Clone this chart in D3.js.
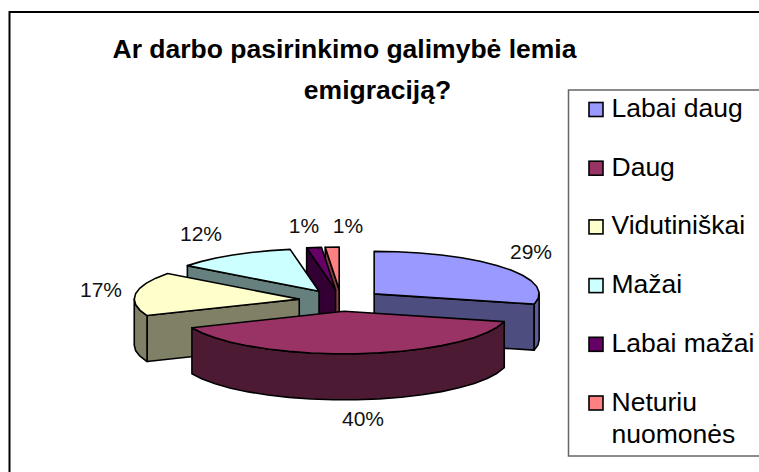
<!DOCTYPE html>
<html><head><meta charset="utf-8">
<script src="https://cdn.jsdelivr.net/npm/d3@7/dist/d3.min.js"></script>
<style>html,body{margin:0;padding:0;background:#fff;overflow:hidden}svg{display:block}text{font-family:"Liberation Sans",Arial,sans-serif}</style>
</head><body><div id="c"></div>
<script>
const categories = ["Labai daug","Daug","Vidutiniškai","Mažai","Labai mažai","Neturiu nuomonės"];
const values = [28.9,39.8,16.6,11.9,1.45,1.35];
const topColors = ["#9999FF","#993366","#FFFFCC","#CCFFFF","#660066","#FF8080"];
const wallColors = ["#4D4D80","#4D1A33","#808066","#668080","#330033","#804040"];
const rimColors = ["#5E5E9E","#4D1A33","#808066","#668080","#330033","#804040"];
const titleLines = ["Ar darbo pasirinkimo galimybė lemia","emigraciją?"];

const W=759,H=472, cx=341,cy=300.5, rx=165,ry=42.5, depth=46, explode=0.255;
const svg=d3.select("#c").append("svg").attr("width",W).attr("height",H);
svg.append("rect").attr("x",9.5).attr("y",12).attr("width",780).attr("height",500).attr("fill","#fff").attr("stroke","#000").attr("stroke-width",2);

const arcs=d3.pie().sort(null)(values);
const pct=d3.format(".0%"), total=d3.sum(values);
const xs=d3.scaleLinear().domain([-1,1]).range([-rx,rx]);
const ys=d3.scaleLinear().domain([-1,1]).range([ry,-ry]);
const line=d3.line();
const geo=arcs.map(a=>{const m=(a.startAngle+a.endAngle)/2;
  return {...a,i:a.index,ax:cx+explode*xs(Math.sin(m)),ay:cy+explode*ys(Math.cos(m))};});
function rim(g,a0,a1){const n=Math.max(1,Math.ceil((a1-a0)/(Math.PI/22)));
  return d3.range(n+1).map(k=>{const t=a0+(a1-a0)*k/n;return [g.ax+xs(Math.sin(t)),g.ay+ys(Math.cos(t))];});}
const down=p=>[p[0],p[1]+depth];
const draw=(pts,fill)=>svg.append("path").attr("d",line(pts)+"Z").attr("fill",fill).attr("stroke","#000").attr("stroke-width",1.6).attr("stroke-linejoin","round");

[5,4,3,2,0,1].forEach(i=>{const g=geo[i],apex=[g.ax,g.ay];
  const s=rim(g,g.startAngle,g.startAngle)[0], e=rim(g,g.endAngle,g.endAngle)[0];
  if(g.startAngle>Math.PI) draw([apex,s,down(s),down(apex)],wallColors[i]);
  if(g.endAngle<Math.PI) draw([apex,e,down(e),down(apex)],wallColors[i]);
  const f0=Math.max(g.startAngle,Math.PI/2), f1=Math.min(g.endAngle,3*Math.PI/2);
  if(f1>f0){const r=rim(g,f0,f1);draw(r.concat(r.map(down).reverse()),rimColors[i]);}
  draw([apex].concat(rim(g,g.startAngle,g.endAngle)),topColors[i]);
});

const labelPos=[[531,259],[363,426],[101,297],[201,241],[304,233],[348,233]];
svg.append("g").selectAll("text").data(geo).join("text")
  .attr("x",(d,i)=>labelPos[i][0]).attr("y",(d,i)=>labelPos[i][1])
  .attr("text-anchor","middle").attr("font-size",21).attr("fill","#111")
  .text(d=>pct(d.value/total));

svg.append("g").selectAll("text").data(titleLines).join("text")
  .attr("x",(d,i)=>[344.5,377.5][i]).attr("y",(d,i)=>[57.5,99][i])
  .attr("text-anchor","middle").attr("font-size",26.5).attr("font-weight","bold").attr("fill","#000").text(d=>d);

svg.append("rect").attr("x",568.5).attr("y",90).attr("width",220).attr("height",366).attr("fill","#fff").attr("stroke","#666").attr("stroke-width",1.5);
const ly=d3.scalePoint().domain(categories).range([109.5,403]);
const lg=svg.append("g").selectAll("g").data(categories).join("g").attr("transform",d=>`translate(0,${ly(d)})`);
lg.append("rect").attr("x",589).attr("y",-7).attr("width",14).attr("height",14).attr("fill",(d,i)=>topColors[i]).attr("stroke","#000").attr("stroke-width",1.6);
lg.each(function(d){const t=d3.select(this).append("text").attr("font-size",26.5).attr("fill","#000");
  const parts=d==="Neturiu nuomonės"?["Neturiu","nuomonės"]:[d];
  parts.forEach((p,k)=>t.append("tspan").attr("x",611.5).attr("y",7.5+k*32).text(p));});
</script></body></html>
